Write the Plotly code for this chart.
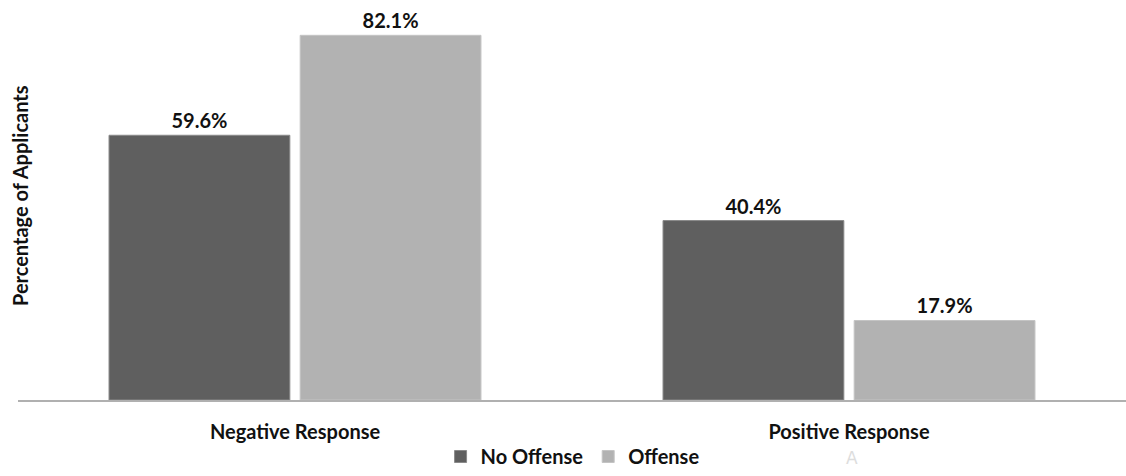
import plotly.graph_objects as go

categories = ["Negative Response", "Positive Response"]
no_offense = [59.6, 40.4]
offense = [82.1, 17.9]
series_names = ["No Offense", "Offense"]
y_title = "Percentage of Applicants"

FONT = "Lato"
fig = go.Figure()
fig.add_trace(go.Bar(
    x=categories, y=no_offense, name=series_names[0],
    marker=dict(color="#5f5f5f", line=dict(color="#8a8a8a", width=1)),
    text=[f"{v:.1f}%" for v in no_offense], textposition="outside",
    textfont=dict(family=FONT, size=20, color="#111111", weight="bold"),
    cliponaxis=False,
))
fig.add_trace(go.Bar(
    x=categories, y=offense, name=series_names[1],
    marker=dict(color="#b2b2b2", line=dict(color="#c4c4c4", width=1)),
    text=[f"{v:.1f}%" for v in offense], textposition="outside",
    textfont=dict(family=FONT, size=20, color="#111111", weight="bold"),
    cliponaxis=False,
))

fig.update_layout(
    width=1126, height=476,
    margin=dict(l=18, r=0, t=10, b=76, autoexpand=False),
    paper_bgcolor="white", plot_bgcolor="white",
    barmode="group", bargap=0.31, bargroupgap=0.054,
    font=dict(family=FONT, size=20, color="#111111"),
    showlegend=True,
    legend=dict(orientation="h", x=0.5085, xanchor="center", xref="container",
                y=0.0, yanchor="bottom", yref="container",
                font=dict(family=FONT, size=20, color="#111111", weight="bold"),
                itemwidth=30, tracegroupgap=0, itemclick=False),
    xaxis=dict(showline=True, linecolor="#b0b0b0", linewidth=2, ticks="",
               tickfont=dict(family=FONT, size=20, color="#111111", weight="bold"),
               ticklabelstandoff=13, automargin=False,
               showgrid=False, zeroline=False),
    yaxis=dict(range=[0, 87.8], visible=False, showgrid=False, zeroline=False,
               automargin=False),
    annotations=[
        dict(text=y_title, textangle=-90, xref="paper", yref="paper",
             x=(20 - 18) / 1108, y=0.523, xanchor="center", yanchor="middle",
             showarrow=False,
             font=dict(family=FONT, size=20, color="#111111", weight="bold")),
        dict(text="A", xref="paper", yref="paper", x=(852 - 18) / 1108,
             y=-0.148, xanchor="center", yanchor="middle", showarrow=False,
             font=dict(family="DejaVu Sans", size=17, color="#dddddd")),
    ],
)
fig.write_html("out.html")
